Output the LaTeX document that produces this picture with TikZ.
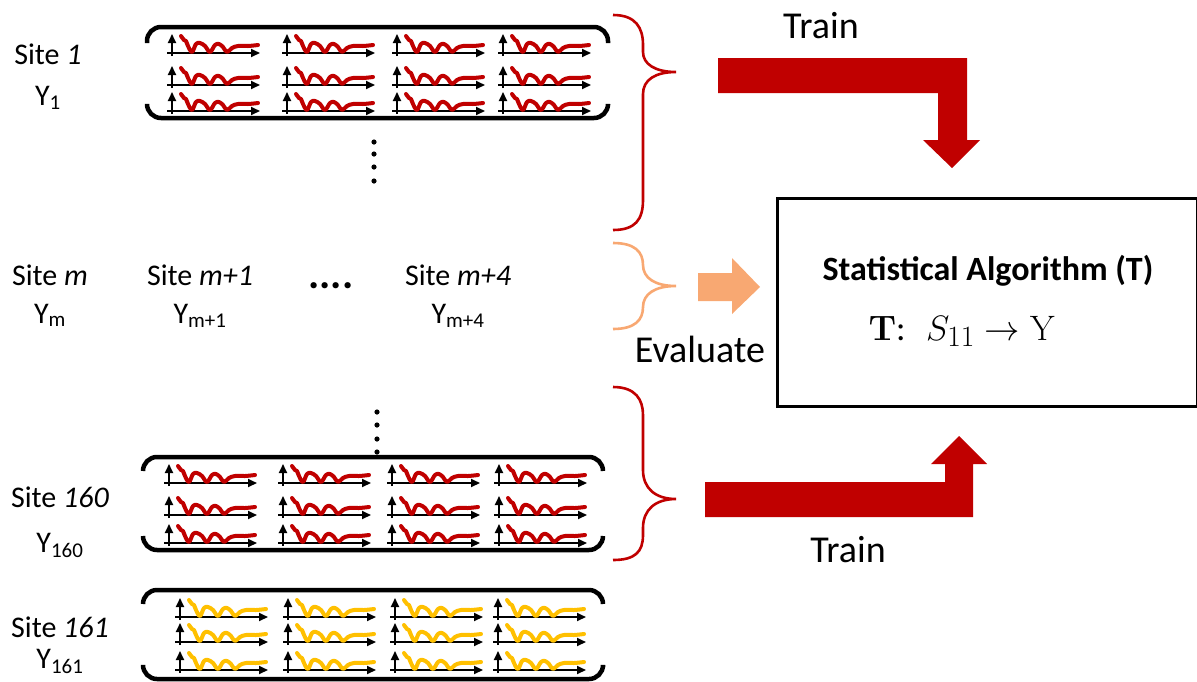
\documentclass[tikz,border=0pt]{standalone}
\usepackage[no-math]{fontspec}
\usepackage{graphicx}
\setmainfont{Carlito}
\usetikzlibrary{arrows.meta}
\definecolor{dred}{HTML}{C00000}
\definecolor{lorange}{HTML}{F8A872}
\definecolor{gold}{HTML}{FFC000}
\tikzset{
  axisline/.style={line width=1.8pt,-{Triangle[length=9pt,width=8pt]}},
  pics/mplot/.style={code={
    \draw[axisline] (-5,0) -- (88,0);
    \draw[axisline] (0,3) -- (0,-19);
    \draw[line width=4pt,#1,line cap=round,line join=round]
      plot[smooth,tension=0.6] coordinates{(9,-17) (12,-13) (14,-12) (16,-7) (20,-1) (24,-9) (28,-10) (33,-7) (38,-1) (43,-8) (47,-9) (51,-6) (55,-1) (60,-5) (66,-7) (76,-7) (86,-8)};
  }},
  holder/.style={line width=4.5pt,rounded corners=14pt},
  brace/.style={line width=2.6pt},
  site/.style={anchor=base,font=\fontsize{30}{36}\selectfont,inner sep=0pt},
  big/.style={anchor=base,font=\fontsize{38}{44}\selectfont,inner sep=0pt},
  blockarrow/.style={fill=dred,draw=none},
}
\begin{document}
\begin{tikzpicture}[x=1pt,y=-1pt]
\useasboundingbox (0,0) rectangle (1197,681);
% holders
\draw[holder] (147,43) -- (147,27) -- (608,27) -- (608,43);
\draw[holder] (147,105) -- (147,118) -- (608,118) -- (608,105);
\draw[holder] (143,471) -- (143,457) -- (603,457) -- (603,471);
\draw[holder] (143,536) -- (143,550) -- (603,550) -- (603,536);
\draw[holder] (143,604) -- (143,590) -- (603,590) -- (603,604);
\draw[holder] (143,667) -- (143,679) -- (603,679) -- (603,667);
% mini plots
\foreach \x in {172,287,397,503}{
  \foreach \y in {53,85,111}{ \pic at (\x,\y) {mplot=dred}; }
}
\foreach \x in {169,283,392,499}{
  \foreach \y in {483,515,543}{ \pic at (\x,\y) {mplot=dred}; }
}
\foreach \x in {180,288,395,498}{
  \foreach \y in {617,642,670}{ \pic at (\x,\y) {mplot=gold}; }
}
% vertical dots
\foreach \y in {142,154,167,181}{ \fill (374,\y) circle (2.6); }
\foreach \y in {412,425,439,452}{ \fill (377,\y) circle (2.6); }
% site labels
\node[site] (s1) at (48,64) {Site \textit{1}};
\node[site] (y1) at (48,105) {Y\textsubscript{1}};
\node[site] (sm) at (50,285) {Site \textit{m}};
\node[site] (ym) at (50,323) {Y\textsubscript{m}};
\node[site] (sm1) at (200,285) {Site \textit{m+1}};
\node[site] (ym1) at (200,323) {Y\textsubscript{m+1}};
\node[site,font=\fontsize{42}{48}\selectfont\bfseries] (dd) at (331,288) {....};
\node[site] (sm4) at (458,285) {Site \textit{m+4}};
\node[site] (ym4) at (458,323) {Y\textsubscript{m+4}};
\node[site] (s160) at (60,507) {Site \textit{160}};
\node[site] (y160) at (60,552) {Y\textsubscript{160}};
\node[site] (s161) at (60,637) {Site \textit{161}};
\node[site] (y161) at (60,668) {Y\textsubscript{161}};
% braces
\draw[brace,dred] (613,15) .. controls (636,15) and (643,28) .. (643,45) -- (643,52)
  .. controls (643,64) and (655,72) .. (676,72)
  .. controls (655,72) and (643,80) .. (643,94) -- (643,200)
  .. controls (643,220) and (635,230) .. (613,230);
\draw[brace,lorange] (613,243) .. controls (635,243) and (643,252) .. (643,265)
  .. controls (643,278) and (655,286) .. (676,286)
  .. controls (655,286) and (643,294) .. (643,307)
  .. controls (643,320) and (635,329) .. (613,329);
\draw[brace,dred] (613,387) .. controls (636,387) and (643,400) .. (643,415) -- (643,470)
  .. controls (643,488) and (655,499) .. (676,499)
  .. controls (655,499) and (643,510) .. (643,528) -- (643,535)
  .. controls (643,552) and (635,560) .. (613,560);
% algorithm box
\node[draw,line width=3pt,minimum width=420pt,minimum height=208pt,anchor=north west,inner sep=0pt] (algo) at (776,197) {};
\node[anchor=base,inner sep=0pt,font=\fontsize{34}{40}\selectfont\bfseries] (title) at (988,280) {Statistical Algorithm (T)};
\node[anchor=base,inner sep=0pt,font=\fontsize{24.88}{30}\selectfont] (map) at (962,340) {\scalebox{1.42}{$\mathbf{T}$:\; $S_{11}\rightarrow \mathrm{Y}$}};
% block arrows
\fill[blockarrow] (718,58) -- (967,58) -- (967,140) -- (980,140) -- (952,168) -- (923,140) -- (938,140) -- (938,93) -- (718,93) -- cycle;
\fill[blockarrow] (705,517) -- (973,517) -- (973,464) -- (987,464) -- (959,436) -- (931,464) -- (945,464) -- (945,482) -- (705,482) -- cycle;
\fill[lorange] (698,273) -- (732,273) -- (732,258) -- (760,287) -- (732,314) -- (732,301) -- (698,301) -- cycle;
% labels
\node[big] (tr1) at (821,38) {Train};
\node[big] (tr2) at (848,562) {Train};
\node[big] (ev) at (700,362) {Evaluate};
\end{tikzpicture}
\end{document}
